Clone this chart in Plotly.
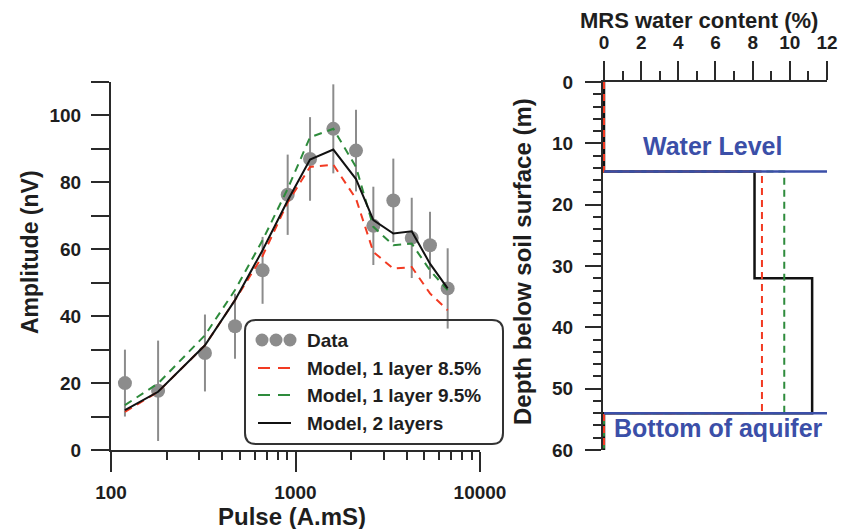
import plotly.graph_objects as go

# ---------------- data ----------------
pulse = [119, 180, 323, 470, 663, 907, 1199, 1603, 2128, 2642, 3390, 4266, 5357, 6680]
amplitude = [20, 17.7, 29, 37, 53.7, 76.3, 87, 96, 89.5, 67, 74.6, 63.4, 61.2, 48.3]
amp_err = [10, 15, 11.5, 9.7, 10, 12, 12.5, 13.3, 12.2, 11.7, 12.5, 12, 10, 12]
model_85 = [11.4, 17.4, 31.3, 44.8, 58, 74, 84.6, 85.3, 75.1, 59.2, 54.2, 54.7, 46.8, 41.8]
model_95 = [13.4, 19.9, 34.3, 47.8, 62.7, 78.1, 93.5, 96, 84.6, 66.7, 61.2, 61.7, 53.7, 47.8]
model_2l = [11.9, 17.4, 31.3, 44.8, 59.7, 74.6, 86.8, 89.8, 81, 68.7, 64.7, 65.4, 55.7, 48.3]

depth_1l = [0, 14.6, 14.6, 54, 54, 60]
wc_85 = [0, 0, 8.5, 8.5, 0, 0]
wc_95 = [0, 0, 9.7, 9.7, 0, 0]
depth_2l = [0, 14.6, 14.6, 32, 32, 54, 54, 60]
wc_2l = [0, 0, 8.1, 8.1, 11.2, 11.2, 0, 0]
water_level = 14.6
aquifer_bottom = 54

amp_ticks = list(range(0, 111, 10))
amp_labels = [str(v) if v % 20 == 0 and v <= 100 else "" for v in amp_ticks]
pulse_ticks = [100, 1000, 10000]
pulse_minor = [200, 300, 400, 500, 600, 700, 800, 900,
               2000, 3000, 4000, 5000, 6000, 7000, 8000, 9000]
wc_ticks = [0, 2, 4, 6, 8, 10, 12]
depth_ticks = [0, 10, 20, 30, 40, 50, 60]

legend_labels = ["Data", "Model, 1 layer 8.5%", "Model, 1 layer 9.5%", "Model, 2 layers"]

# ---------------- layout helpers ----------------
# the page body adds an 8px margin; the figure is sized to fill the rest of the window
OFF = 8
W, H = 847 - OFF, 529 - OFF
ML, MR, MT, MB = 111 - OFF, 20, 82 - OFF, 79
PW, PH = W - ML - MR, H - MT - MB


def px(x):  # window pixel -> paper
    return (x - OFF - ML) / PW


def py(y):
    return (H - MB - (y - OFF)) / PH


RED = "#f23a22"
GREEN = "#2e8b3c"
BLACK = "#111111"
GRAY = "#8c8c8c"
BLUE = "#3b4fa8"
AX = "#2a2a2a"
TXT = "#1e1e1e"
FONT = "Liberation Sans, Arial, Helvetica, sans-serif"

fig = go.Figure()

# left panel
fig.add_trace(go.Scatter(
    x=pulse, y=amplitude, mode="markers", name="Data",
    marker=dict(size=14, color=GRAY),
    error_y=dict(type="data", array=amp_err, color=GRAY, thickness=2, width=0),
    xaxis="x", yaxis="y"))
fig.add_trace(go.Scatter(x=pulse, y=model_85, mode="lines", name=legend_labels[1],
                         line=dict(color=RED, width=2, dash="8px,6px"), xaxis="x", yaxis="y"))
fig.add_trace(go.Scatter(x=pulse, y=model_95, mode="lines", name=legend_labels[2],
                         line=dict(color=GREEN, width=2, dash="8px,6px"), xaxis="x", yaxis="y"))
fig.add_trace(go.Scatter(x=pulse, y=model_2l, mode="lines", name=legend_labels[3],
                         line=dict(color=BLACK, width=2), xaxis="x", yaxis="y"))

# right panel
fig.add_trace(go.Scatter(x=wc_2l, y=depth_2l, mode="lines", line=dict(color=BLACK, width=2.5),
                         xaxis="x2", yaxis="y2"))
fig.add_trace(go.Scatter(x=wc_95, y=depth_1l, mode="lines",
                         line=dict(color=GREEN, width=2, dash="7px,5px"), xaxis="x2", yaxis="y2"))
fig.add_trace(go.Scatter(x=wc_85, y=depth_1l, mode="lines",
                         line=dict(color=RED, width=2, dash="7px,5px"), xaxis="x2", yaxis="y2"))

tickfont = dict(family=FONT, size=19, color=TXT, weight="bold")
x2_left_px = 604 - 0.06 * (826.7 - 604) / 12

fig.update_layout(
    width=W, height=H,
    margin=dict(l=ML, r=MR, t=MT, b=MB, autoexpand=False),
    paper_bgcolor="white", plot_bgcolor="rgba(0,0,0,0)",
    showlegend=False,
    font=dict(family=FONT, color=TXT, weight="bold"),
    xaxis=dict(type="log", range=[2, 4], domain=[0, px(480)], anchor="y", automargin=False,
               tickmode="array", tickvals=pulse_ticks, ticktext=[str(v) for v in pulse_ticks],
               ticks="outside", ticklen=20, tickwidth=2, tickcolor=AX,
               minor=dict(tickmode="array", tickvals=pulse_minor, ticks="outside",
                          ticklen=8, tickwidth=2, tickcolor=AX),
               showline=True, linewidth=2, linecolor=AX, showgrid=False, zeroline=False,
               tickfont=tickfont, ticklabelstandoff=4),
    yaxis=dict(range=[0, 110], domain=[0, 1], anchor="x", automargin=False,
               tickmode="array", tickvals=amp_ticks, ticktext=amp_labels,
               ticks="outside", ticklen=18, tickwidth=2, tickcolor=AX,
               showline=True, linewidth=2, linecolor=AX, showgrid=False, zeroline=False,
               tickfont=tickfont, ticklabelstandoff=6),
    xaxis2=dict(range=[-0.06, 12], domain=[px(x2_left_px), 1], anchor="y2", side="top",
                automargin=False,
                tickmode="array", tickvals=wc_ticks, ticktext=[str(v) for v in wc_ticks],
                ticks="outside", ticklen=19, tickwidth=2, tickcolor=AX,
                minor=dict(tickmode="linear", tick0=0, dtick=1, ticks="outside",
                           ticklen=9, tickwidth=2, tickcolor=AX),
                showline=True, linewidth=2, linecolor=AX, showgrid=False, zeroline=False,
                tickfont=tickfont, ticklabelstandoff=4, layer="below traces"),
    yaxis2=dict(range=[60, 0], domain=[0, 1], anchor="x2", automargin=False,
                tickmode="array", tickvals=depth_ticks, ticktext=[str(v) for v in depth_ticks],
                ticks="outside", ticklen=16, tickwidth=2, tickcolor=AX,
                minor=dict(tickmode="linear", tick0=0, dtick=2, ticks="outside",
                           ticklen=8, tickwidth=2, tickcolor=AX),
                showline=True, linewidth=2, linecolor=AX, showgrid=False, zeroline=False,
                tickfont=tickfont, ticklabelstandoff=8, layer="below traces"),
)

# water level / aquifer bottom lines
for d in (water_level, aquifer_bottom):
    fig.add_shape(type="line", xref="x2", yref="y2", x0=0, x1=12, y0=d, y1=d,
                  line=dict(color=BLUE, width=2.5), layer="above")

annotations = []


def ann(text, x, y, size, color=TXT, angle=0, xanchor="center"):
    annotations.append(dict(text=text, x=px(x), y=py(y), xref="paper", yref="paper",
                            showarrow=False, xanchor=xanchor, yanchor="middle",
                            textangle=angle,
                            font=dict(family=FONT, size=size, color=color, weight="bold")))


ann("Amplitude (nV)", 30, 252, 23, angle=-90)
ann("Pulse (A.mS)", 292, 516, 24)
ann("MRS water content (%)", 699, 20, 22)
ann("Depth below soil surface (m)", 523, 262, 24, angle=-90)
ann("Water Level", 712, 146, 25, color=BLUE)
ann("Bottom of aquifer", 718, 428, 25, color=BLUE)

# legend (drawn)
leg_y = [340, 368, 395, 423]
for lab, yy in zip(legend_labels, leg_y):
    ann(lab, 305, yy, 19, xanchor="left")

fig.update_layout(annotations=annotations)


def rrect(x0, y0, x1, y1, r):
    pts = [("M", [(x0 + r, y0)]), ("L", [(x1 - r, y0)]), ("Q", [(x1, y0), (x1, y0 + r)]),
           ("L", [(x1, y1 - r)]), ("Q", [(x1, y1), (x1 - r, y1)]), ("L", [(x0 + r, y1)]),
           ("Q", [(x0, y1), (x0, y1 - r)]), ("L", [(x0, y0 + r)]), ("Q", [(x0, y0), (x0 + r, y0)])]
    s = ""
    for cmd, ps in pts:
        s += cmd + " " + " ".join(f"{px(a):.5f},{py(b):.5f}" for a, b in ps) + " "
    return s + "Z"


fig.add_shape(type="path", xref="paper", yref="paper", path=rrect(245, 320, 503, 444, 11),
              line=dict(color="#333333", width=2), fillcolor="rgba(0,0,0,0)", layer="above")

for cx in (262, 276, 290):
    r = 6.5
    fig.add_shape(type="circle", xref="paper", yref="paper",
                  x0=px(cx - r), x1=px(cx + r), y0=py(340 + r), y1=py(340 - r),
                  fillcolor=GRAY, line=dict(color=GRAY, width=0), layer="above")

for yy, col, dash in ((368, RED, "12px,8px"), (395, GREEN, "12px,8px"), (423, BLACK, "solid")):
    fig.add_shape(type="line", xref="paper", yref="paper", x0=px(258), x1=px(291),
                  y0=py(yy), y1=py(yy), line=dict(color=col, width=2, dash=dash), layer="above")

fig.write_html("out.html")
